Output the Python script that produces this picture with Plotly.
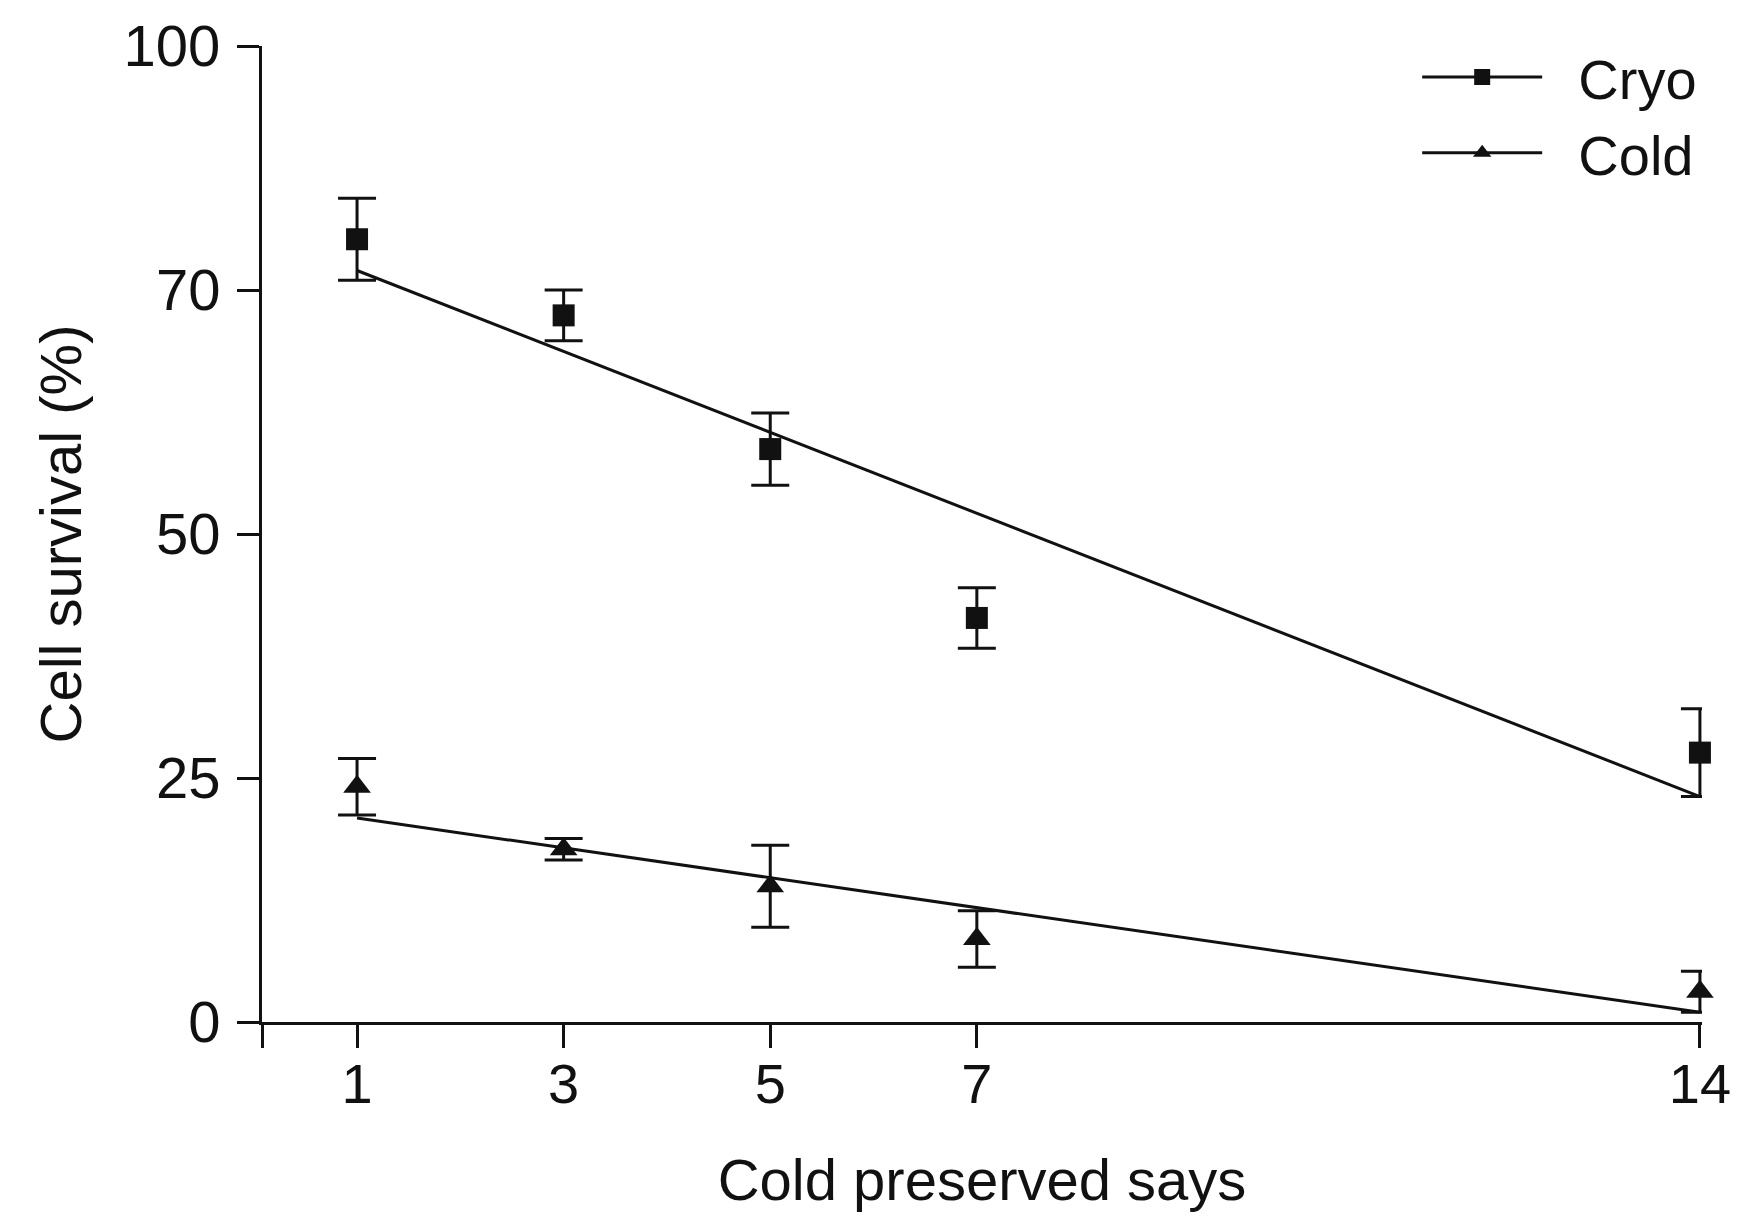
import plotly.graph_objects as go

days = [1, 3, 5, 7, 14]
cryo_mean = [80.2, 72.4, 58.7, 41.4, 27.6]
cryo_err = [4.2, 2.6, 3.7, 3.1, 4.5]
cold_mean = [24.1, 17.7, 13.9, 8.5, 3.1]
cold_err = [2.9, 1.1, 4.2, 2.9, 2.1]

trend_x = [1, 14]
cryo_trend = [77.0, 23.1]
cold_trend = [20.9, 1.0]

x_start = 0.08
y_tickvals = [0, 25, 50, 75, 100]
y_ticktext = ["0", "25", "50", "70", "100"]
x_tickvals = [x_start, 1, 3, 5, 7, 14]
x_ticktext = ["", "1", "3", "5", "7", "14"]

FONT = "Liberation Sans, Arial, sans-serif"
BLACK = "#111111"
NB = "\u00a0\u00a0"

fig = go.Figure()

# trend lines
fig.add_trace(go.Scatter(x=trend_x, y=cryo_trend, mode="lines",
                         line=dict(color=BLACK, width=3), showlegend=False, cliponaxis=False))
fig.add_trace(go.Scatter(x=trend_x, y=cold_trend, mode="lines",
                         line=dict(color=BLACK, width=3), showlegend=False, cliponaxis=False))

# data points with error bars
fig.add_trace(go.Scatter(x=days, y=cryo_mean, mode="markers", name="Cryo",
                         marker=dict(symbol="square", size=22, color=BLACK),
                         error_y=dict(type="data", array=cryo_err, visible=True,
                                      color=BLACK, thickness=3, width=19),
                         showlegend=False, cliponaxis=False))
fig.add_trace(go.Scatter(x=days, y=cold_mean, mode="markers", name="Cold",
                         marker=dict(symbol="triangle-up", size=24, color=BLACK),
                         error_y=dict(type="data", array=cold_err, visible=True,
                                      color=BLACK, thickness=3, width=19),
                         showlegend=False, cliponaxis=False))

# legend entries
fig.add_trace(go.Scatter(x=[None], y=[None], mode="lines+markers", name=NB + "Cryo",
                         line=dict(color=BLACK, width=3),
                         marker=dict(symbol="square", size=22, color=BLACK)))
fig.add_trace(go.Scatter(x=[None], y=[None], mode="lines+markers", name=NB + "Cold",
                         line=dict(color=BLACK, width=3),
                         marker=dict(symbol="triangle-up", size=24, color=BLACK)))

fig.update_layout(
    width=1752, height=1217,
    paper_bgcolor="white", plot_bgcolor="white",
    margin=dict(l=254, r=58, t=38, b=203, autoexpand=False),
    font=dict(family=FONT, size=56, color=BLACK),
    showlegend=True,
    legend=dict(xref="container", yref="container", x=0.967, y=0.9786,
                xanchor="right", yanchor="top",
                bgcolor="rgba(0,0,0,0)", itemwidth=120,
                font=dict(family=FONT, size=56, color=BLACK),
                tracegroupgap=0),
    xaxis=dict(range=[x_start, 14.02], tickvals=x_tickvals, ticktext=x_ticktext,
               automargin=False,
               showgrid=False, zeroline=False, showline=True, linecolor=BLACK,
               linewidth=3, ticks="outside", ticklen=23, tickwidth=3, tickcolor=BLACK,
               tickfont=dict(size=56), ticklabelstandoff=-12,
               title=dict(text="Cold preserved says", font=dict(size=58), standoff=46)),
    yaxis=dict(range=[0, 100], tickvals=y_tickvals, ticktext=y_ticktext,
               automargin=False,
               showgrid=False, zeroline=False, showline=True, linecolor=BLACK,
               linewidth=3, ticks="outside", ticklen=22, tickwidth=3, tickcolor=BLACK,
               tickfont=dict(size=58), ticklabelstandoff=5,
               title=dict(text="Cell survival (%)", font=dict(size=58), standoff=24)),
)

fig.write_html("out.html")
